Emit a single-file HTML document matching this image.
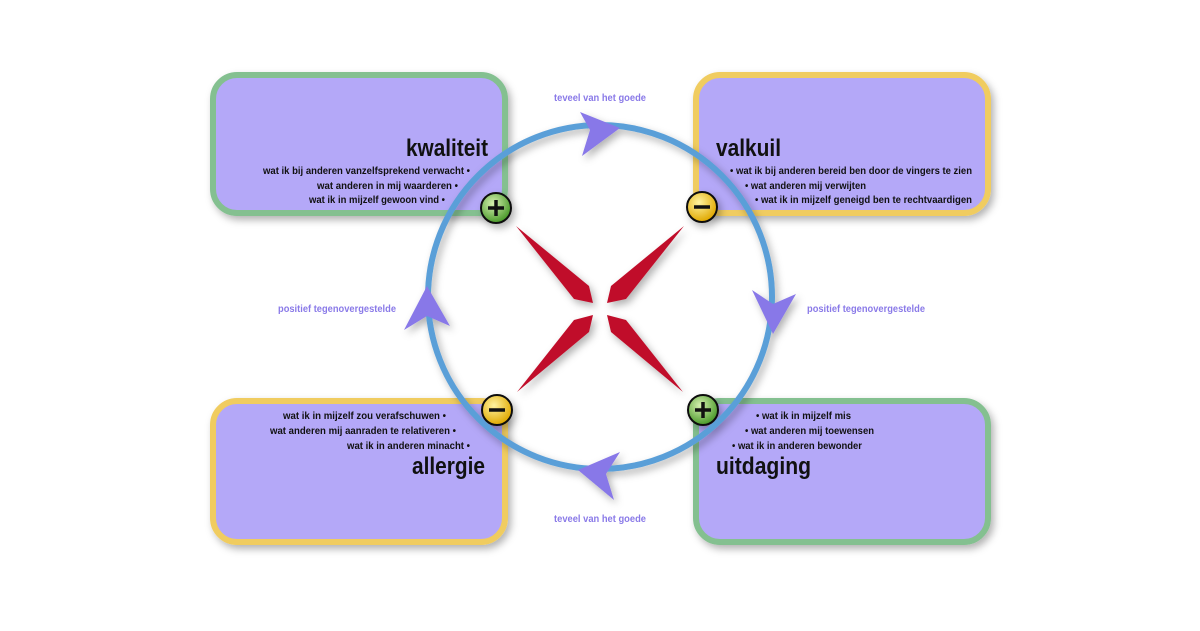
<!DOCTYPE html>
<html><head><meta charset="utf-8"><style>
body{margin:0;width:1200px;height:626px;background:#fff;overflow:hidden;font-family:"Liberation Sans",sans-serif}
</style></head><body>
<svg width="1200" height="626" xmlns="http://www.w3.org/2000/svg" font-family="Liberation Sans, sans-serif">
<defs>
<filter id="sh" x="-20%" y="-20%" width="140%" height="140%"><feDropShadow dx="3" dy="4" stdDeviation="4" flood-opacity="0.3"/></filter>
<radialGradient id="gg" cx="40%" cy="35%" r="65%"><stop offset="0" stop-color="#d6f0b0"/><stop offset="1" stop-color="#4a9a2a"/></radialGradient>
<radialGradient id="yg" cx="40%" cy="35%" r="65%"><stop offset="0" stop-color="#fff3a0"/><stop offset="1" stop-color="#e0a800"/></radialGradient>
</defs>
<g filter="url(#sh)">
<rect x="213" y="75" width="292" height="138" rx="24" fill="#b4a8f8" stroke="#84c090" stroke-width="6"/>
<rect x="696" y="75" width="292" height="138" rx="24" fill="#b4a8f8" stroke="#f0cc60" stroke-width="6"/>
<rect x="213" y="401" width="292" height="141" rx="24" fill="#b4a8f8" stroke="#f0cc60" stroke-width="6"/>
<rect x="696" y="401" width="292" height="141" rx="24" fill="#b4a8f8" stroke="#84c090" stroke-width="6"/>
</g>
<g font-weight="bold" fill="#111" lengthAdjust="spacingAndGlyphs">
<text x="406" y="156" font-size="24" textLength="82" lengthAdjust="spacingAndGlyphs">kwaliteit</text>
<g font-size="10.5">
<text x="263" y="174" textLength="207" lengthAdjust="spacingAndGlyphs">wat ik bij anderen vanzelfsprekend verwacht •</text>
<text x="317" y="189" textLength="141" lengthAdjust="spacingAndGlyphs">wat anderen in mij waarderen •</text>
<text x="309" y="203" textLength="136" lengthAdjust="spacingAndGlyphs">wat ik in mijzelf gewoon vind •</text>
</g>
<text x="716" y="156" font-size="24" textLength="65" lengthAdjust="spacingAndGlyphs">valkuil</text>
<g font-size="10.5">
<text x="730" y="174" textLength="242" lengthAdjust="spacingAndGlyphs">• wat ik bij anderen bereid ben door de vingers te zien</text>
<text x="745" y="189" textLength="121" lengthAdjust="spacingAndGlyphs">• wat anderen mij verwijten</text>
<text x="755" y="203" textLength="217" lengthAdjust="spacingAndGlyphs">• wat ik in mijzelf geneigd ben te rechtvaardigen</text>
</g>
<text x="412" y="474" font-size="24" textLength="73" lengthAdjust="spacingAndGlyphs">allergie</text>
<g font-size="10.5">
<text x="283" y="419" textLength="163" lengthAdjust="spacingAndGlyphs">wat ik in mijzelf zou verafschuwen •</text>
<text x="270" y="434" textLength="186" lengthAdjust="spacingAndGlyphs">wat anderen mij aanraden te relativeren •</text>
<text x="347" y="449" textLength="123" lengthAdjust="spacingAndGlyphs">wat ik in anderen minacht •</text>
</g>
<text x="716" y="474" font-size="24" textLength="95" lengthAdjust="spacingAndGlyphs">uitdaging</text>
<g font-size="10.5">
<text x="756" y="419" textLength="95" lengthAdjust="spacingAndGlyphs">• wat ik in mijzelf mis</text>
<text x="745" y="434" textLength="129" lengthAdjust="spacingAndGlyphs">• wat anderen mij toewensen</text>
<text x="732" y="449" textLength="130" lengthAdjust="spacingAndGlyphs">• wat ik in anderen bewonder</text>
</g>
</g>
<g filter="url(#sh)">
<circle cx="600" cy="297" r="172" fill="none" stroke="#5a9fd8" stroke-width="6"/>
<g fill="#c0102a">
<polygon points="516,226 589,286 593,303 574,299"/>
<polygon points="684,226 611,286 607,303 626,299"/>
<polygon points="517,392 574,320 593,315 589,332"/>
<polygon points="683,392 626,320 607,315 611,332"/>
</g>
<g fill="#8878e8">
<polygon points="580,112 620,128 582,156 590,130"/>
<polygon points="752,290 773,334 796,294 773,304"/>
<polygon points="620,452 578,470 614,500 606,474"/>
<polygon points="404,330 427,286 450,326 427,316"/>
</g>
<g stroke="#111" stroke-width="2">
<circle cx="496" cy="208" r="15" fill="url(#gg)"/>
<circle cx="702" cy="207" r="15" fill="url(#yg)"/>
<circle cx="497" cy="410" r="15" fill="url(#yg)"/>
<circle cx="703" cy="410" r="15" fill="url(#gg)"/>
</g>
</g>
<g stroke="#111" stroke-width="3.5">
<line x1="488" y1="208" x2="504" y2="208"/><line x1="496" y1="200" x2="496" y2="216"/>
<line x1="694" y1="207" x2="710" y2="207"/>
<line x1="489" y1="410" x2="505" y2="410"/>
<line x1="695" y1="410" x2="711" y2="410"/><line x1="703" y1="402" x2="703" y2="418"/>
</g>
<g fill="#8a7ae8" font-size="10" font-weight="bold">
<text x="554" y="101" textLength="92" lengthAdjust="spacingAndGlyphs">teveel van het goede</text>
<text x="554" y="522" textLength="92" lengthAdjust="spacingAndGlyphs">teveel van het goede</text>
<text x="278" y="312" textLength="118" lengthAdjust="spacingAndGlyphs">positief tegenovergestelde</text>
<text x="807" y="312" textLength="118" lengthAdjust="spacingAndGlyphs">positief tegenovergestelde</text>
</g>
</svg>
</body></html>
